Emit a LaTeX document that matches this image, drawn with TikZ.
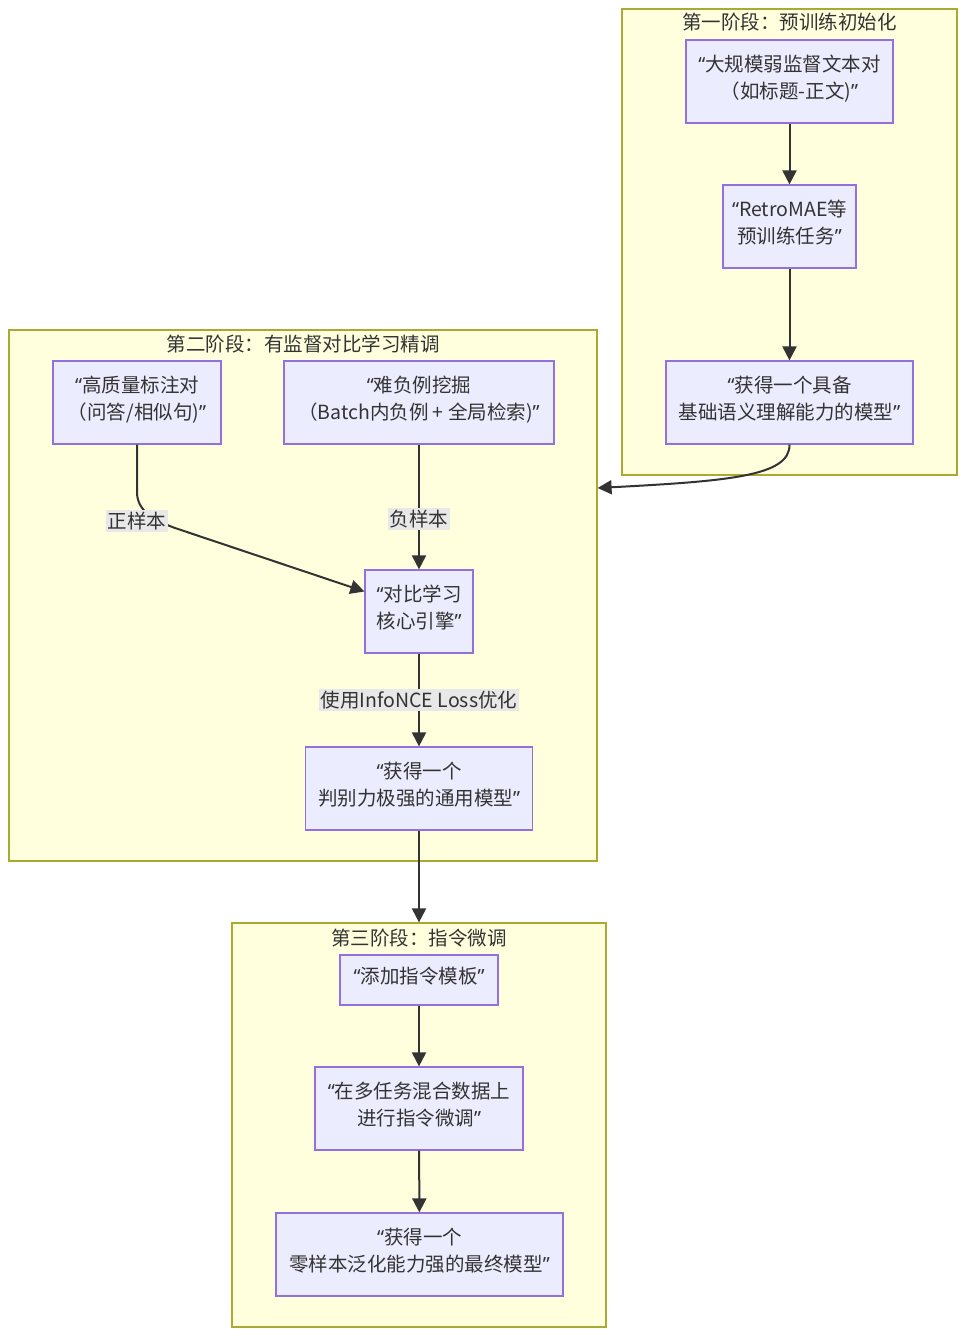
\documentclass[tikz,border=0pt]{standalone}
\usepackage{fontspec}
\setmainfont{Noto Sans CJK SC}
\newfontfamily\qfont{Noto Sans}
\usetikzlibrary{arrows.meta,positioning,calc}

\definecolor{stagefill}{HTML}{FFFFDE}
\definecolor{stageline}{HTML}{AAAA33}
\definecolor{boxfill}{HTML}{ECECFF}
\definecolor{boxline}{HTML}{9370DB}
\definecolor{inkgray}{HTML}{333333}
\definecolor{labelbg}{HTML}{E8E8E8}

% quotes; the closing one also deepens the last line so the text sits a bit high
\newcommand\lqt{{\qfont “}}
\newcommand\rqt{{\qfont ”}\rule[-10pt]{0pt}{0pt}}

\tikzset{
  stage/.style={draw=stageline, fill=stagefill, line width=1.2pt, inner sep=0pt},
  stagetitle/.style={text=inkgray, inner sep=0pt},
  box/.style={draw=boxline, fill=boxfill, line width=1.2pt, align=center, inner sep=0pt, text=inkgray},
  flow/.style={draw=inkgray, line width=2pt, -{Triangle[length=14pt,width=14pt]}},
  elabel/.style={fill=labelbg, inner sep=2pt, text=inkgray},
}

\begin{document}
\begin{tikzpicture}[x=1pt,y=-1pt,font=\fontsize{19.5}{27}\selectfont]
\useasboundingbox (0,0) rectangle (966,1336);

% Stage 1: pretraining
\node[stage, minimum width=335pt, minimum height=466pt] (s1) at (789.5,242) {};
\node[stagetitle] (t1) at (789.5,22) {第一阶段：预训练初始化};
\node[box, minimum width=207pt, minimum height=83pt] (a1) at (789.5,81.5) {\lqt 大规模弱监督文本对\\（如标题-正文)\rqt};
\node[box, minimum width=133pt, minimum height=83pt] (a2) at (789.5,226.5) {\lqt RetroMAE等\\预训练任务\rqt};
\node[box, minimum width=247pt, minimum height=83pt] (a3) at (789.5,402.5) {\lqt 获得一个具备\\基础语义理解能力的模型\rqt};

% Stage 2: contrastive tuning
\node[stage, minimum width=588pt, minimum height=531pt] (s2) at (303,595.5) {};
\node[stagetitle] (t2) at (303,344) {第二阶段：有监督对比学习精调};
\node[box, minimum width=168pt, minimum height=83pt] (b1) at (137,402.5) {\lqt 高质量标注对\\（问答/相似句)\rqt};
\node[box, minimum width=270pt, minimum height=83pt] (b2) at (419,402.5) {\lqt 难负例挖掘\\（Batch内负例 + 全局检索)\rqt};
\node[box, minimum width=108pt, minimum height=83pt] (b3) at (419,611.5) {\lqt 对比学习\\核心引擎\rqt};
\node[box, minimum width=227pt, minimum height=83pt] (b4) at (419,788.5) {\lqt 获得一个\\判别力极强的通用模型\rqt};

% Stage 3: instruction tuning
\node[stage, minimum width=374pt, minimum height=404pt] (s3) at (419,1125) {};
\node[stagetitle] (t3) at (419,938) {第三阶段：指令微调};
\node[box, minimum width=158pt, minimum height=50pt] (c1) at (419,980) {\lqt 添加指令模板\rqt};
\node[box, minimum width=208pt, minimum height=83pt] (c2) at (419,1108.5) {\lqt 在多任务混合数据上\\进行指令微调\rqt};
\node[box, minimum width=287pt, minimum height=83pt] (c3) at (419.5,1254.5) {\lqt 获得一个\\零样本泛化能力强的最终模型\rqt};

% Arrows
\draw[flow] (a1) -- (a2);
\draw[flow] (a2) -- (a3);
\draw[flow] (a3.south) .. controls (790,476) and (730,481) .. ([yshift=107.5pt]s2.east);
\draw[flow] (b1.south) -- (137,492) .. controls (137,510) and (152,519.5) .. (175,528) -- ([yshift=20pt]b3.west);
\draw[flow] (b2) -- node[elabel, pos=0.6] (l2) {负样本} (b3);
\draw[flow] (b3) -- node[elabel] (l3) {使用InfoNCE Loss优化} (b4);
\draw[flow] (b4) -- (s3);
\draw[flow] (c1) -- (c2);
\draw[flow] (c2) -- (c3);
\node[elabel] (l1) at (137,521) {正样本};
\end{tikzpicture}
\end{document}
